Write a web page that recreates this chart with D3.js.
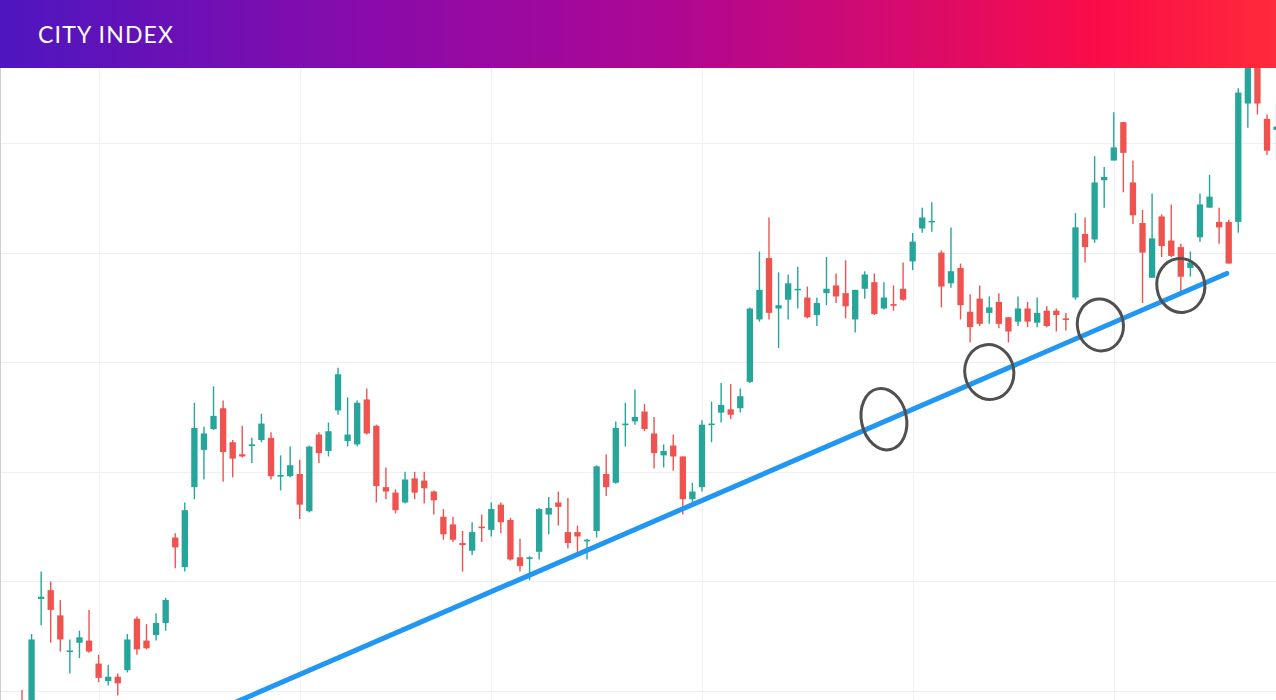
<!DOCTYPE html>
<html>
<head>
<meta charset="utf-8">
<script src="https://cdn.jsdelivr.net/npm/d3@7/dist/d3.min.js"></script>
<style>
  html, body { margin: 0; padding: 0; background: #fff; overflow: hidden; }
  svg { display: block; }
</style>
</head>
<body>
<div id="chart"></div>
<script>
// Daily candles (price units are arbitrary)
var opens = [
  99.0, 98.7, 108.4, 109.2, 106.9, 103.6, 104.4, 104.6, 102.5, 100.9,
  101.3, 101.9, 106.6, 104.6, 105.1, 106.2, 114.0, 111.3, 118.6, 122.0,
  123.9, 125.8, 122.7, 121.6, 122.4, 122.9, 123.1, 119.6, 119.6, 119.8,
  116.4, 123.4, 121.9, 125.6, 122.8, 122.5, 126.6, 124.2, 118.6, 118.1,
  117.2, 119.4, 119.2, 118.2, 115.9, 115.2, 113.5, 112.8, 115.0, 114.7,
  117.0, 115.6, 112.2, 112.1, 112.7, 116.1, 117.2, 114.5, 114.5, 113.7,
  114.6, 119.8, 119.0, 124.3, 124.6, 125.5, 123.5, 121.5, 122.4, 121.4,
  117.5, 118.6, 124.3, 125.4, 125.7, 125.8, 128.2, 133.9, 139.5, 134.9,
  135.7, 136.6, 135.9, 134.3, 136.3, 137.0, 136.3, 133.9, 136.7, 137.3,
  134.9, 135.3, 136.7, 139.2, 142.2, 142.8, 140.0, 137.2, 138.6, 134.6,
  135.8, 134.5, 135.5, 134.1, 133.7, 134.9, 133.6, 134.7, 134.7, 134.0,
  135.9, 141.7, 141.2, 146.6, 148.4, 151.9, 146.4, 142.7, 137.7, 143.3,
  141.1, 140.5, 138.6, 141.4, 144.1, 142.8, 142.8, 142.8, 153.6, 158.0,
  152.2, 151.2
];
var highs = [
  100.1, 105.2, 110.9, 110.0, 108.3, 104.7, 105.5, 107.4, 103.3, 102.4,
  101.6, 105.2, 106.8, 106.1, 107.1, 108.5, 114.4, 117.2, 126.3, 124.1,
  127.8, 126.5, 122.9, 124.2, 123.1, 125.3, 123.6, 121.5, 122.3, 121.1,
  122.4, 123.6, 124.5, 129.5, 126.8, 126.5, 127.6, 124.3, 120.4, 118.4,
  120.0, 120.0, 120.0, 118.3, 116.6, 115.9, 114.6, 115.4, 116.1, 117.2,
  117.2, 115.8, 113.9, 112.3, 116.7, 117.7, 118.2, 117.6, 115.1, 113.9,
  120.6, 121.6, 124.6, 126.3, 127.5, 126.2, 125.0, 122.5, 123.4, 121.4,
  119.0, 124.7, 126.4, 128.1, 128.0, 127.6, 135.0, 140.1, 143.2, 138.2,
  138.0, 138.7, 136.9, 135.9, 139.6, 138.1, 139.3, 136.6, 138.3, 138.1,
  137.3, 137.0, 139.1, 141.8, 144.1, 144.6, 140.2, 142.3, 139.0, 136.2,
  137.0, 136.0, 136.3, 134.1, 136.0, 135.5, 135.9, 135.1, 134.9, 134.5,
  143.6, 143.2, 148.8, 147.8, 152.8, 151.9, 148.4, 143.9, 145.4, 143.5,
  144.4, 140.8, 140.1, 145.4, 147.1, 144.1, 143.0, 155.0, 158.5, 158.3,
  152.6, 153.6
];
var lows = [
  97.8, 98.1, 106.0, 104.4, 103.6, 101.6, 103.0, 103.5, 100.8, 100.5,
  99.6, 101.7, 103.3, 103.8, 104.6, 105.5, 111.2, 110.9, 117.5, 119.3,
  123.8, 119.1, 119.5, 121.3, 120.8, 122.7, 119.3, 118.3, 119.5, 115.7,
  116.3, 120.8, 121.4, 125.2, 122.3, 122.3, 123.4, 117.2, 117.5, 116.2,
  117.1, 117.5, 117.1, 116.1, 113.8, 113.6, 110.9, 112.4, 113.6, 114.1,
  114.4, 111.9, 110.9, 110.1, 112.0, 114.3, 115.1, 113.0, 112.7, 112.0,
  114.0, 117.8, 118.9, 122.3, 124.3, 123.7, 120.3, 120.4, 120.1, 116.1,
  117.1, 118.2, 122.7, 124.5, 124.8, 125.4, 128.1, 133.7, 133.9, 131.3,
  133.9, 134.9, 134.0, 133.3, 135.2, 135.4, 134.0, 132.7, 135.8, 134.3,
  134.8, 134.7, 135.6, 138.4, 141.8, 141.9, 135.0, 136.8, 133.9, 131.8,
  133.3, 133.5, 133.1, 131.8, 133.3, 133.2, 133.2, 133.2, 132.8, 132.9,
  135.7, 139.1, 140.9, 144.1, 148.4, 145.5, 142.6, 135.4, 137.7, 139.6,
  139.6, 136.5, 137.8, 141.0, 144.1, 140.8, 139.0, 141.8, 151.4, 152.6,
  148.9, 148.4
];
var closes = [
  98.1, 104.7, 108.6, 107.4, 104.7, 103.7, 104.9, 103.6, 101.2, 101.3,
  100.7, 104.7, 103.8, 103.9, 106.2, 108.3, 113.1, 116.5, 124.0, 123.5,
  125.1, 121.8, 121.2, 121.4, 122.5, 124.4, 119.6, 119.7, 120.6, 117.0,
  122.3, 121.7, 123.7, 128.9, 123.4, 126.3, 123.5, 118.7, 118.2, 116.5,
  119.3, 118.1, 118.5, 117.4, 114.3, 113.8, 113.3, 114.5, 114.9, 116.6,
  115.4, 112.0, 111.4, 112.2, 116.6, 116.7, 116.8, 113.5, 114.1, 113.8,
  120.5, 118.6, 124.0, 124.4, 125.0, 123.9, 121.7, 121.9, 121.4, 117.5,
  118.2, 124.3, 124.4, 126.1, 125.2, 126.9, 134.9, 136.6, 134.5, 135.2,
  137.2, 136.7, 134.1, 135.4, 136.7, 136.0, 135.1, 136.6, 138.0, 134.4,
  135.9, 135.2, 135.7, 141.0, 143.2, 142.9, 136.9, 138.3, 135.2, 133.2,
  133.5, 135.0, 133.5, 132.8, 134.9, 133.7, 134.5, 133.3, 134.3, 133.9,
  142.3, 140.5, 146.4, 146.9, 149.6, 149.1, 143.4, 140.0, 141.3, 140.6,
  139.7, 137.8, 139.1, 144.4, 145.1, 142.3, 139.0, 154.6, 158.0, 153.6,
  149.3, 151.5
];

// grid: month starts (day index) and price levels
var gridDays = [8, 29, 49, 71, 93, 114];
var gridPrices = [100, 110, 120, 130, 140, 150, 160];

// rising trend line (day index, price)
var trendDays = [20, 125.8];
var trendPrices = [98.1, 138.1];

// circled touches of the trend line
var touchDays = [90.0, 101.0, 112.6, 121.0];
var touchPrices = [124.8, 129.1, 133.4, 137.0];

var W = 1276, H = 700, headerH = 68;
var up = "#26a69a", down = "#ef5350";

var candles = opens.map(function(o, i) {
  return { day: i, open: o, high: highs[i], low: lows[i], close: closes[i] };
});

var svg = d3.select("#chart").append("svg")
    .attr("width", W)
    .attr("height", H);

var defs = svg.append("defs");
defs.append("clipPath").attr("id", "plot")
  .append("rect")
    .attr("x", 0).attr("y", headerH)
    .attr("width", W).attr("height", H - headerH);

var grad = defs.append("linearGradient").attr("id", "brand")
    .attr("x1", "0%").attr("x2", "100%").attr("y1", "0%").attr("y2", "0%");
[["0%", "#4e16c0"], ["28%", "#880bab"], ["52%", "#ad0794"], ["72%", "#d90b6a"],
 ["86%", "#fb0c49"], ["100%", "#ff2a3a"]].forEach(function(s) {
  grad.append("stop").attr("offset", s[0]).attr("stop-color", s[1]);
});

// scales: one candle every ~9.58px, price 100..150 spans the grid
var x = d3.scaleLinear().domain([0, 131]).range([22, 22 + 131 * 9.577]);
var y = d3.scaleLinear().domain([100, 150]).range([691, 143]);
var step = x(1) - x(0);
var bodyW = step * 0.66;

var plot = svg.append("g").attr("clip-path", "url(#plot)");

// grid lines
plot.append("g")
  .attr("transform", "translate(0," + H + ")")
  .call(d3.axisBottom(x).tickValues(gridDays).tickSize(-(H - headerH)).tickFormat(""))
  .call(function(g) {
    g.select(".domain").remove();
    g.selectAll("line").attr("stroke", "#eef0f4").attr("shape-rendering", "crispEdges");
  });

plot.append("g")
  .call(d3.axisRight(y).tickValues(gridPrices).tickSize(W).tickFormat(""))
  .call(function(g) {
    g.select(".domain").remove();
    g.selectAll("line").attr("stroke", "#eef0f4").attr("shape-rendering", "crispEdges");
  });

// left frame line
plot.append("line")
  .attr("x1", 0.5).attr("x2", 0.5)
  .attr("y1", headerH).attr("y2", H)
  .attr("stroke", "#cfcfcf");

// candles
var c = plot.append("g").selectAll("g.candle")
  .data(candles)
  .enter().append("g")
    .attr("class", "candle")
    .attr("fill", function(d) { return d.close >= d.open ? up : down; })
    .attr("stroke", function(d) { return d.close >= d.open ? up : down; });

c.append("line")
  .attr("x1", function(d) { return x(d.day); })
  .attr("x2", function(d) { return x(d.day); })
  .attr("y1", function(d) { return y(d.high); })
  .attr("y2", function(d) { return y(d.low); })
  .attr("stroke-width", 1.4);

c.append("rect")
  .attr("stroke", "none")
  .attr("x", function(d) { return x(d.day) - bodyW / 2; })
  .attr("width", bodyW)
  .attr("y", function(d) { return y(Math.max(d.open, d.close)); })
  .attr("height", function(d) {
    return Math.max(1.6, Math.abs(y(d.open) - y(d.close)));
  });

// trend line
var line = d3.line()
  .x(function(d) { return x(d[0]); })
  .y(function(d) { return y(d[1]); });

plot.append("path")
  .datum(d3.zip(trendDays, trendPrices))
  .attr("d", line)
  .attr("fill", "none")
  .attr("stroke", "#2196f3")
  .attr("stroke-width", 5)
  .attr("stroke-linecap", "round");

// circles round the touches
var ringSize = [[22.5, 31, -12], [24.5, 27.5, -10], [23, 26, -10], [24, 27, -8]];
plot.append("g").selectAll("ellipse")
  .data(d3.zip(touchDays, touchPrices))
  .enter().append("ellipse")
    .attr("transform", function(d, i) {
      return "translate(" + x(d[0]) + "," + y(d[1]) + ") rotate(" + ringSize[i][2] + ")";
    })
    .attr("rx", function(d, i) { return ringSize[i][0]; })
    .attr("ry", function(d, i) { return ringSize[i][1]; })
    .attr("fill", "none")
    .attr("stroke", "#505050")
    .attr("stroke-width", 3);

// brand header
svg.append("rect")
  .attr("x", 0).attr("y", 0)
  .attr("width", W).attr("height", headerH)
  .attr("fill", "url(#brand)");

svg.append("text")
  .attr("x", 38).attr("y", 43)
  .attr("fill", "#fff")
  .attr("font-family", "Lato, 'Open Sans', sans-serif")
  .attr("font-size", 23)
  .attr("textLength", 135)
  .attr("lengthAdjust", "spacing")
  .text("CITY INDEX");
</script>
</body>
</html>
